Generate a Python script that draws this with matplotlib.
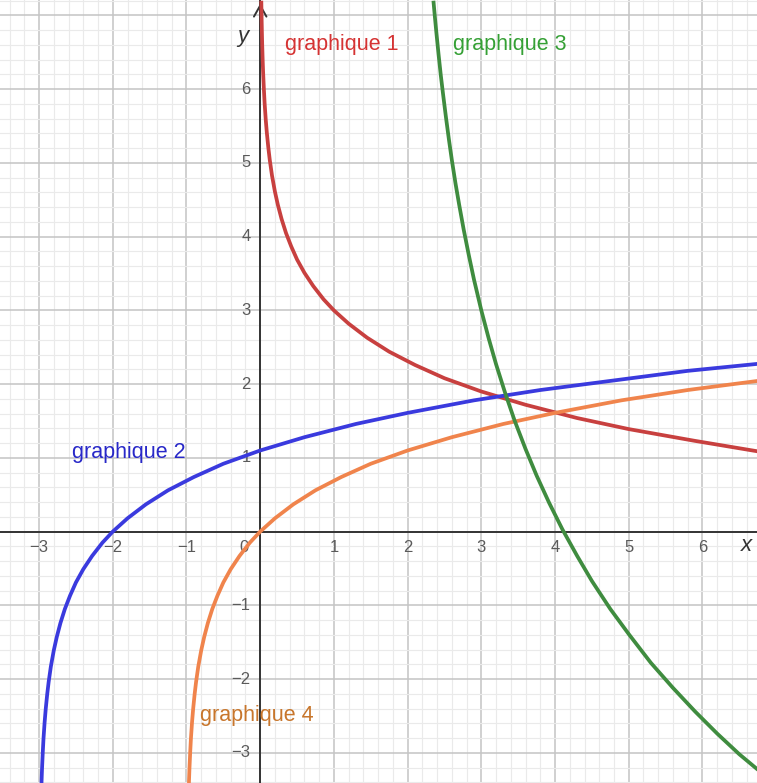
import numpy as np
import matplotlib
matplotlib.use('Agg')
import matplotlib.pyplot as plt

# points
red_x = [0.015, 0.018, 0.022, 0.027, 0.033, 0.04, 0.05, 0.06, 0.075, 0.09,
         0.11, 0.13, 0.16, 0.2, 0.24, 0.29, 0.35, 0.42, 0.5, 0.6,
         0.72, 0.86, 1.0, 1.2, 1.45, 1.75, 2.1, 2.5, 3.0, 3.6,
         4.3, 5.0, 5.9, 6.8]
red_y = [7.20, 7.02, 6.82, 6.61, 6.41, 6.22, 6.00, 5.81, 5.59, 5.41,
         5.21, 5.04, 4.83, 4.61, 4.43, 4.24, 4.05, 3.87, 3.69, 3.51,
         3.33, 3.15, 3.00, 2.82, 2.63, 2.44, 2.26, 2.08, 1.90, 1.72,
         1.54, 1.39, 1.23, 1.08]

blue_x = [-2.967, -2.96, -2.95, -2.94, -2.925, -2.91, -2.89, -2.87, -2.84, -2.80,
          -2.76, -2.71, -2.65, -2.58, -2.50, -2.40, -2.28, -2.14, -2.0, -1.8,
          -1.55, -1.25, -0.9, -0.5, 0.0, 0.6, 1.3, 2.0, 2.9, 3.8,
          4.8, 5.8, 6.8]
blue_y = [-3.41, -3.22, -3.00, -2.81, -2.59, -2.41, -2.21, -2.04, -1.83, -1.61,
          -1.43, -1.24, -1.05, -0.87, -0.69, -0.51, -0.33, -0.15, 0.00, 0.18,
          0.37, 0.56, 0.74, 0.92, 1.10, 1.28, 1.46, 1.61, 1.78, 1.92,
          2.05, 2.18, 2.28]

orange_x = [-0.967, -0.96, -0.95, -0.94, -0.925, -0.91, -0.89, -0.87, -0.84, -0.80,
            -0.76, -0.71, -0.65, -0.58, -0.50, -0.40, -0.28, -0.14, 0.0, 0.2,
            0.45, 0.75, 1.1, 1.5, 2.0, 2.6, 3.3, 4.0, 4.9, 5.8,
            6.8]
orange_y = [-3.41, -3.22, -3.00, -2.81, -2.59, -2.41, -2.21, -2.04, -1.83, -1.61,
            -1.43, -1.24, -1.05, -0.87, -0.69, -0.51, -0.33, -0.15, 0.00, 0.18,
            0.37, 0.56, 0.74, 0.92, 1.10, 1.28, 1.46, 1.61, 1.78, 1.92,
            2.05]

green_x = [2.35, 2.37, 2.39, 2.42, 2.45, 2.48, 2.52, 2.56, 2.6, 2.65,
           2.7, 2.76, 2.83, 2.9, 3.0, 3.1, 3.2, 3.32, 3.45, 3.6,
           3.75, 3.92, 4.1, 4.3, 4.5, 4.75, 5.0, 5.3, 5.6, 5.9,
           6.2, 6.5, 6.8]
green_y = [7.20, 6.98, 6.77, 6.47, 6.19, 5.94, 5.62, 5.32, 5.04, 4.72,
           4.43, 4.10, 3.75, 3.42, 3.00, 2.62, 2.27, 1.89, 1.51, 1.12,
           0.76, 0.39, 0.03, -0.33, -0.67, -1.05, -1.39, -1.78, -2.12, -2.44,
           -2.74, -3.02, -3.27]

x_ticks = [-3, -2, -1, 1, 2, 3, 4, 5, 6]
y_ticks = [-3, -2, -1, 1, 2, 3, 4, 5, 6]

labels = ['graphique 1', 'graphique 2', 'graphique 3', 'graphique 4']
label_pos = [(0.33, 6.60), (-2.55, 1.07), (2.62, 6.60), (-0.82, -2.49)]
label_colors = ['#d53333', '#2828c8', '#35a035', '#c8762c']

xmin, xmax = -3.53, 6.74
ymin, ymax = -3.41, 7.21

plt.rcParams['font.family'] = ['Liberation Sans', 'DejaVu Sans']

fig = plt.figure(figsize=(7.57, 7.83), dpi=100)
ax = fig.add_axes([0, 0, 1, 1])
ax.set_xlim(xmin, xmax)
ax.set_ylim(ymin, ymax)
for s in ax.spines.values():
    s.set_visible(False)

#grid: unit lines and fifths
ax.set_xticks(np.arange(-3, 7, 1))
ax.set_yticks(np.arange(-3, 8, 1))
ax.set_xticks(np.arange(-3.4, 6.8, 0.2), minor=True)
ax.set_yticks(np.arange(-3.4, 7.4, 0.2), minor=True)
ax.tick_params(which='both', length=0, labelbottom=False, labelleft=False)
ax.grid(which='minor', color='#eaeaea', lw=0.8)
ax.grid(which='major', color='#c4c4c4', lw=1.1)
ax.set_axisbelow(True)

#axes
ax.axhline(0, color='#333333', lw=1.4, zorder=2)
ax.plot([0, 0], [ymin, ymax - 0.02], color='#333333', lw=1.4, zorder=2)
ax.annotate('', xy=(0, ymax - 0.01), xytext=(0, ymax - 0.4),
            arrowprops=dict(arrowstyle='->,head_length=0.8,head_width=0.45', color='#333333', lw=1.4), zorder=2)

for t in x_ticks:
    ax.text(t, -0.21, '\u2212%d' % -t if t < 0 else str(t), ha='center', va='center',
            fontsize=12, color='#5a5a5a')
for t in y_ticks:
    ax.text(-0.13, t, '\u2212%d' % -t if t < 0 else str(t), ha='right', va='center',
            fontsize=12, color='#5a5a5a')
ax.text(-0.22, -0.21, '0', ha='center', va='center', fontsize=12, color='#5a5a5a')
ax.text(6.6, -0.19, 'x', ha='center', va='center', fontsize=16, style='italic', color='#333333')
ax.text(-0.24, 6.72, 'y', ha='center', va='center', fontsize=16, style='italic', color='#333333')

#curves
for cx, cy, c in [(red_x, red_y, '#c8403f'), (blue_x, blue_y, '#3a3ade'),
                  (orange_x, orange_y, '#f0844c'), (green_x, green_y, '#3f8c3f')]:
    ax.plot(cx, cy, color=c, lw=2.7, zorder=3, solid_joinstyle='round', solid_capstyle='butt')

for lab, (lx, ly), c in zip(labels, label_pos, label_colors):
    ax.text(lx, ly, lab, color=c, fontsize=15.5, ha='left', va='center', zorder=4)

fig.savefig('out.png', dpi=100)
